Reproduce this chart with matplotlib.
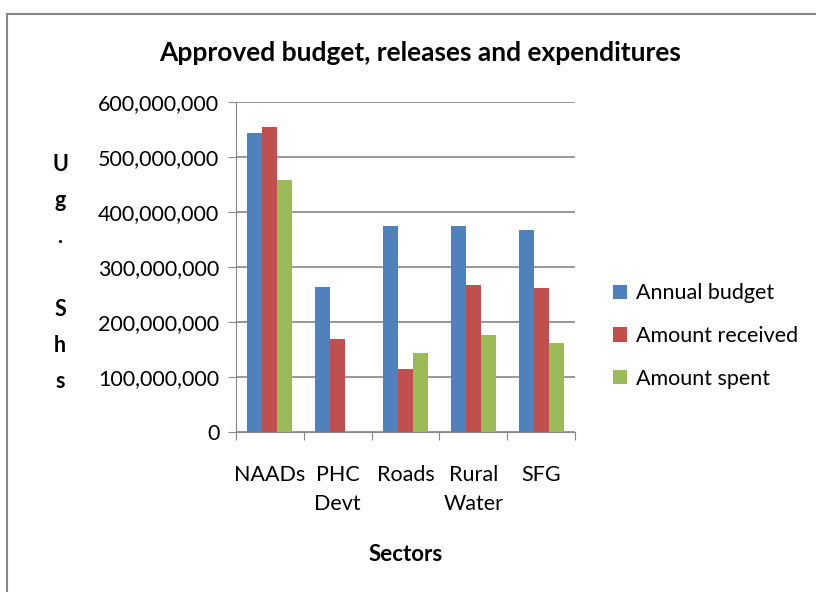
import numpy as np
import matplotlib.pyplot as plt
from matplotlib.patches import Rectangle

plt.rcParams["font.family"] = ["Lato", "DejaVu Sans"]

sectors = ["NAADs", "PHC\nDevt", "Roads", "Rural\nWater", "SFG"]
annual_budget = [543_600_000, 263_600_000, 374_000_000, 374_000_000, 367_300_000]
amount_received = [554_500_000, 167_900_000, 114_500_000, 266_000_000, 261_800_000]
amount_spent = [457_600_000, 0, 142_400_000, 175_800_000, 160_600_000]
y_ticks = [0, 100_000_000, 200_000_000, 300_000_000, 400_000_000, 500_000_000, 600_000_000]

series = [
    ("Annual budget", annual_budget, "#4f81bd"),
    ("Amount received", amount_received, "#c0504d"),
    ("Amount spent", amount_spent, "#9bbb59"),
]

fig = plt.figure(figsize=(8.16, 5.92), dpi=100)
ax = fig.add_axes([236 / 816, 1 - 431.7 / 592, 339 / 816, 330 / 592])

x = np.arange(len(sectors))
width = 0.221
for i, (name, vals, color) in enumerate(series):
    ax.bar(x + (i - 1) * width, vals, width, color=color, label=name, zorder=3)

ax.set_xlim(-0.5, len(sectors) - 0.5)
ax.set_ylim(0, 600_000_000)
ax.set_yticks(y_ticks)
ax.set_yticklabels([f"{v:,}" for v in y_ticks], fontsize=15.5)
ax.yaxis.grid(True, color="#868686", linewidth=1.2, zorder=0)

# category boundaries get the tick marks, names sit between them
ax.set_xticks(np.arange(len(sectors) + 1) - 0.5)
ax.set_xticklabels([])
ax.set_xticks(x, minor=True)
ax.set_xticklabels(sectors, minor=True, fontsize=15.5, linespacing=1.55)
ax.tick_params(axis="x", which="minor", length=0, pad=24)
ax.tick_params(axis="x", which="major", length=6, color="#868686")
ax.tick_params(axis="y", length=6, color="#868686", pad=6)

for side in ["top", "right"]:
    ax.spines[side].set_visible(False)
for side in ["left", "bottom"]:
    ax.spines[side].set_color("#868686")

ax.set_xlabel("Sectors", fontsize=16, fontweight="bold", labelpad=22)

fig.text(420 / 816, 1 - 53 / 592, "Approved budget, releases and expenditures",
         ha="center", va="center", fontsize=19, fontweight="bold")
fig.text(60 / 816, 1 - 273 / 592, "U\ng\n.\n \nS\nh\ns", ha="center", va="center",
         fontsize=15.5, fontweight="bold", linespacing=1.9)

ax.legend(loc="center left", bbox_to_anchor=(594 / 816, 1 - 336 / 592),
          bbox_transform=fig.transFigure, frameon=False, fontsize=15.5,
          handlelength=0.65, handleheight=0.65, handletextpad=0.4, labelspacing=1.05)

fig.patches.append(Rectangle((7 / 816, -0.1), 1.2, 1.1 - 14 / 592, transform=fig.transFigure,
                             fill=False, edgecolor="#868686", linewidth=1.5))

fig.savefig("out.png", dpi=100)
